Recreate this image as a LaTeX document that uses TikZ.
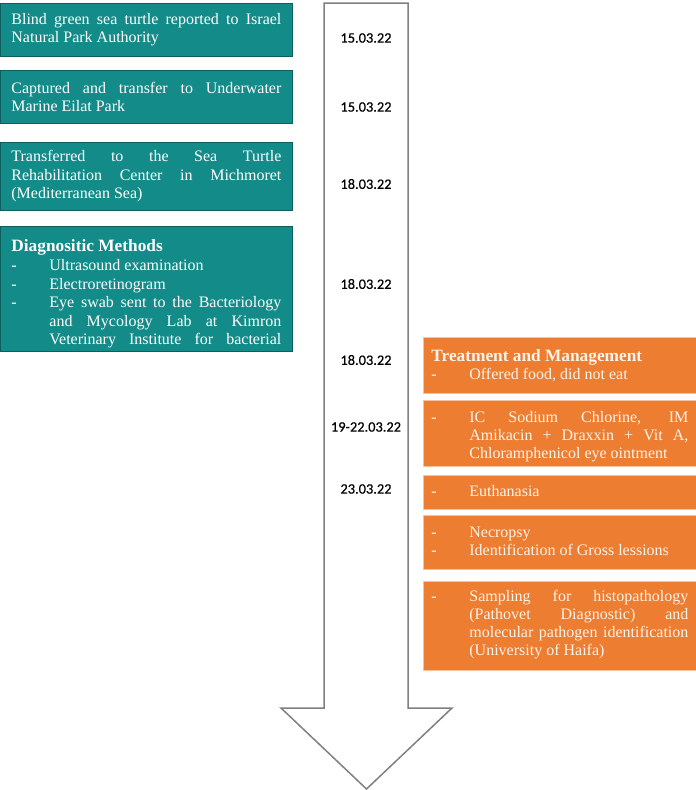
\documentclass[tikz,border=0pt]{standalone}
\usepackage{fontspec}
\setmainfont{Liberation Serif}
\newfontfamily\datefont[FakeBold=0.5]{Carlito}
\definecolor{tealfill}{HTML}{138B89}
\definecolor{tealedge}{HTML}{0C5F5D}
\definecolor{orangefill}{HTML}{ED7D31}
\definecolor{orangeedge}{HTML}{F6C19C}
\definecolor{orangetext}{HTML}{FFF4EA}
\definecolor{arrowgray}{HTML}{808080}
\newcommand{\tlitem}[1]{\par{\leftskip=38pt\noindent\llap{\makebox[38pt][l]{-}}#1\par}}
\newcommand{\tlitemfull}[1]{\par{\leftskip=38pt\parfillskip=0pt\noindent\llap{\makebox[38pt][l]{-}}#1\par}}
\newcommand{\tlhead}[1]{\noindent{\fontsize{17.3}{20}\selectfont\bfseries #1}\par}
\tikzset{
  tealbox/.style={draw=tealedge, line width=0.8pt, fill=tealfill, text=white, anchor=north west,
    inner xsep=11pt, inner ysep=0pt, text width=270pt, minimum width=292pt, align=justify,
    font=\fontsize{16}{18.5}\selectfont},
  orangebox/.style={draw=orangeedge, line width=0.8pt, fill=orangefill, text=orangetext, anchor=north west,
    inner xsep=8pt, inner ysep=0pt, text width=257pt, minimum width=273pt, align=justify,
    font=\fontsize{16}{18}\selectfont},
  datelabel/.style={font=\datefont\fontsize{14.4}{16}\selectfont, text=black, anchor=center, inner sep=0pt},
  timeline/.style={draw=arrowgray, line width=1.5pt, fill=white, line join=miter}
}
\begin{document}
\begin{tikzpicture}[x=1pt,y=-1pt]
\useasboundingbox (0,0) rectangle (696,790);
% timeline arrow
\draw[timeline] (324,3) -- (408,3) -- (408,708) -- (452,708) -- (366.5,789) -- (281,708) -- (324,708) -- cycle;
% teal boxes
\node[tealbox, minimum height=53pt] (t1) at (0,3)
  {Blind green sea turtle reported to Israel\linebreak Natural Park Authority};
\node[tealbox, minimum height=53pt] (t2) at (0,70)
  {Captured and transfer to Underwater\linebreak Marine Eilat Park};
\node[tealbox, minimum height=68pt] (t3) at (0,142)
  {Transferred to the Sea Turtle\linebreak Rehabilitation Center in Michmoret\linebreak (Mediterranean Sea)};
\node[tealbox, minimum height=125pt] (t4) at (0,226)
  {\par\vspace*{3pt}\tlhead{Diagnositic Methods}\vspace{1pt}
   \tlitem{Ultrasound examination}
   \tlitem{Electroretinogram}
   \tlitemfull{Eye swab sent to the Bacteriology\linebreak and Mycology Lab at Kimron\linebreak Veterinary Institute for bacterial}};
% orange boxes
\node[orangebox, minimum height=56pt] (o1) at (423,337)
  {\tlhead{Treatment and Management}
   \tlitem{Offered food, did not eat}};
\node[orangebox, minimum height=66pt] (o2) at (423,400)
  {\tlitem{IC Sodium Chlorine, IM\linebreak Amikacin + Draxxin + Vit A,\linebreak Chloramphenicol eye ointment}};
\node[orangebox, minimum height=34pt] (o3) at (423,475)
  {\vspace*{-9pt}\tlitem{Euthanasia}};
\node[orangebox, minimum height=54pt] (o4) at (423,515)
  {\vspace*{-9pt}\tlitem{Necropsy}
   \tlitem{Identification of Gross lessions}};
\node[orangebox, minimum height=89pt] (o5) at (423,581)
  {\vspace*{-9pt}\tlitem{Sampling for histopathology\linebreak (Pathovet Diagnostic) and\linebreak molecular pathogen identification\linebreak (University of Haifa)}};
% dates
\node[datelabel] (d1) at (366,38) {15.03.22};
\node[datelabel] (d2) at (366,107) {15.03.22};
\node[datelabel] (d3) at (366,184) {18.03.22};
\node[datelabel] (d4) at (366,284) {18.03.22};
\node[datelabel] (d5) at (366,360) {18.03.22};
\node[datelabel] (d6) at (366,427) {19-22.03.22};
\node[datelabel] (d7) at (366,489) {23.03.22};
\end{tikzpicture}
\end{document}
